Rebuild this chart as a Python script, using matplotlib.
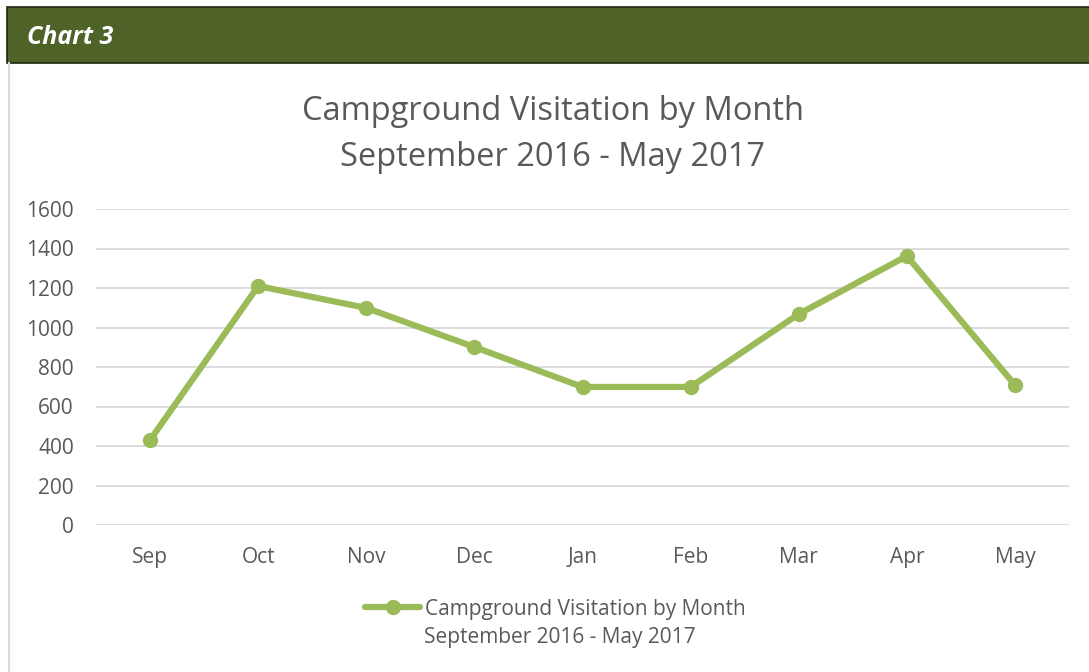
import matplotlib.pyplot as plt
from matplotlib.patches import Rectangle
from matplotlib.lines import Line2D

months = ["Sep", "Oct", "Nov", "Dec", "Jan", "Feb", "Mar", "Apr", "May"]
visits = [430, 1210, 1099, 901, 699, 699, 1068, 1362, 709]
yticks = [0, 200, 400, 600, 800, 1000, 1200, 1400, 1600]

title1 = "Campground Visitation by Month"
title2 = "September 2016 - May 2017"
green = "#9bbb59"
textcol = "#595959"

plt.rcParams['font.family'] = ['Open Sans', 'DejaVu Sans']

W, H = 1089, 672
fig = plt.figure(figsize=(W / 100, H / 100), dpi=100)

# header bar
fig.patches.append(Rectangle((7 / W, 1 - 63 / H), 1.0, 56 / H, transform=fig.transFigure,
                             facecolor="#4f6228", edgecolor="#1e2610", linewidth=1.2))
fig.text(27 / W, 1 - 37 / H, "Chart 3", color="white", fontsize=18,
         fontweight="bold", fontstyle="italic", va="center", ha="left")
# left border of the chart box
fig.add_artist(Line2D([8.5 / W, 8.5 / W], [0, 1 - 63 / H], transform=fig.transFigure,
                      color="#d9d9d9", linewidth=1.5))

ax = fig.add_axes([96 / W, 1 - 525 / H, (1069 - 96) / W, (525 - 209) / H])
x = list(range(len(months)))
line, = ax.plot(x, visits, color=green, linewidth=4.5, marker="o", markersize=10,
                solid_capstyle="round", label=title1, zorder=3)
ax.set_xlim(-0.5, len(months) - 0.5)
ax.set_ylim(0, 1600)
ax.set_yticks(yticks)
ax.set_xticks(x)
ax.set_xticklabels(months)
ax.grid(axis="y", color="#d9d9d9", linewidth=1.3)
ax.set_axisbelow(True)
for s in ax.spines.values():
    s.set_visible(False)
ax.tick_params(length=0, labelsize=15, labelcolor=textcol)
ax.tick_params(axis="x", pad=16)
ax.tick_params(axis="y", pad=16)

fig.text(553 / W, 1 - 111 / H, title1, ha="center", va="center", fontsize=23.5, color=textcol)
fig.text(553 / W, 1 - 158 / H, title2, ha="center", va="center", fontsize=23.5, color=textcol)

leg = fig.legend(handles=[line], loc="center left", bbox_to_anchor=(365 / W, 1 - 609 / H),
                 frameon=False, fontsize=15, handlelength=2.64, handletextpad=0.24,
                 borderpad=0, borderaxespad=0, labelcolor=textcol)
fig.text(424 / W, 1 - 637 / H, title2, ha="left", va="center", fontsize=15, color=textcol)

fig.savefig("out.png", dpi=100)
